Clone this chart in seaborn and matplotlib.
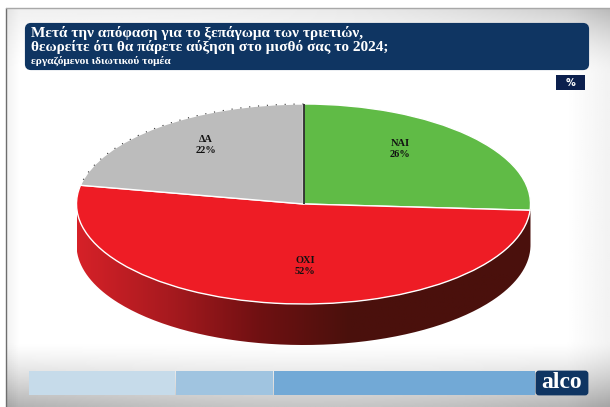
import numpy as np
import matplotlib
matplotlib.use("Agg")
import matplotlib.pyplot as plt
from matplotlib.patches import FancyBboxPatch, Rectangle, PathPatch
from matplotlib.path import Path
import seaborn as sns

labels = ["ΝΑΙ", "ΟΧΙ", "ΔΑ"]
values = [26, 52, 22]
colors = ["#60bb46", "#ee1c25", "#bcbcbc"]
side_shades = ["#d62128", "#a81a1f", "#701012", "#4a100c", "#4a100c", "#4a100c"]
title_lines = ["Μετά την απόφαση για το ξεπάγωμα των τριετιών,",
               "θεωρείτε ότι θα πάρετε αύξηση στο μισθό σας το 2024;"]
subtitle = "εργαζόμενοι ιδιωτικού τομέα"
segments = [146, 97, 261]
segment_colors = ["#c6dbea", "#a0c4e0", "#72a9d6"]

sns.set_theme(style="white")
plt.rcParams["font.family"] = ["Liberation Serif", "DejaVu Serif"]

W, H = 610, 407
fig = plt.figure(figsize=(W / 100, H / 100), dpi=100, facecolor="white")
bg = fig.add_axes([0, 0, 1, 1])
bg.axis("off")

# Slide backdrop: pale centre that greys toward the top and bottom edges
yy, xx = np.mgrid[0:1:200j, 0:1:300j]
edge = (np.clip(yy - .84, 0, 1) / .16) ** 1.3 * .30 * (1 - .25 * np.sin(np.pi * xx))
edge = edge + (np.clip(.16 - yy, 0, 1) / .16) ** 1.5 * (.06 + .16 * xx ** 3)
edge = edge + np.clip(xx - .93, 0, 1) / .07 * .05 + np.clip(.02 - xx, 0, 1) / .02 * .05
bg.imshow(1 - edge, cmap="gray", vmin=0, vmax=1, extent=(6, W, H, 8), aspect="auto", zorder=0)
bg.plot([6, 6], [8, H], color="#6e6e6e", lw=1, zorder=1)
bg.plot([6, W], [8, 8], color="#a8a8a8", lw=1, zorder=1)

# Pie geometry in pixels
cx, cy, rx, ry, depth = 303.5, 204, 227, 100, 41

# Pie rim
theta = np.linspace(0, np.pi, 200)
top_x, top_y = cx + rx * np.cos(theta), cy + ry * np.sin(theta)
rim = np.vstack([np.c_[top_x, top_y], np.c_[top_x[::-1], top_y[::-1] + depth]])
rim_patch = PathPatch(Path(np.vstack([rim, rim[0]])), fc="none", ec="none", transform=bg.transData)
bg.add_patch(rim_patch)
shade = sns.blend_palette(side_shades, n_colors=256)
grad = np.array(shade)[None, :, :]
im = bg.imshow(grad, extent=(cx - rx, cx + rx, cy + ry + depth, cy), aspect="auto", zorder=2)
im.set_clip_path(rim_patch)
bg.set_xlim(0, W)
bg.set_ylim(H, 0)

# Pie top face, squashed to an ellipse by its axes
pie_ax = fig.add_axes([(cx - rx) / W, 1 - (cy + ry) / H, 2 * rx / W, 2 * ry / H])
pie_ax.patch.set_alpha(0)
wedges, _ = pie_ax.pie(values, colors=colors, startangle=90, counterclock=False, radius=1)
pie_ax.set_aspect("auto")
pie_ax.set_xlim(-1, 1)
pie_ax.set_ylim(-1, 1)
pie_ax.axis("off")

# Dark seam at the top of the pie and faint dotted outline on the grey slice
pie_ax.plot([0, 0], [0, 1], color="#2a2a2a", lw=1.3, solid_capstyle="butt")
a = np.radians(np.linspace(wedges[2].theta1, wedges[2].theta2, 200))
pie_ax.plot(np.cos(a), np.sin(a), color="#333333", lw=.8, ls=(0, (1, 7)), clip_on=False)

over = fig.add_axes([0, 0, 1, 1])
over.set_xlim(0, W)
over.set_ylim(H, 0)
over.axis("off")
over.patch.set_alpha(0)

# Slice labels
label_pos = [(400, 149), (305, 266), (206, 145)]
for name, v, (px, py) in zip(labels, values, label_pos):
    over.text(px, py, f"{name}\n{v}%", ha="center", va="center", fontsize=7.5, weight="bold",
              color="#111111", linespacing=1.15)

# Title banner
over.add_patch(FancyBboxPatch((27, 25), 560, 43, boxstyle="round,pad=0,rounding_size=4",
                              fc="#0f3562", ec="#0f3562", lw=3))
over.text(31, 33.5, title_lines[0], color="white", fontsize=11, weight="bold", va="center", ha="left")
over.text(31, 47.5, title_lines[1], color="white", fontsize=11, weight="bold", va="center", ha="left")
over.text(31, 60.5, subtitle, color="white", fontsize=8.2, weight="bold", va="center", ha="left")

# Unit tag
over.add_patch(Rectangle((556, 75), 29, 15, fc="#0b1f4d", ec="none"))
over.text(570.5, 82.5, "%", color="white", fontsize=7, weight="bold", ha="center", va="center",
          family="DejaVu Sans")

# Bottom strip
left = 29
for width, c in zip(segments, segment_colors):
    over.add_patch(Rectangle((left, 371), width, 24, fc=c, ec="none"))
    left += width + 1
over.add_patch(FancyBboxPatch((537, 372), 50, 22, boxstyle="round,pad=0,rounding_size=2",
                              fc="#0f3562", ec="#0f3562", lw=2))
over.text(562, 383, "alco", color="white", fontsize=17, weight="bold", ha="center", va="center")

fig.savefig("out.png", dpi=100, facecolor="white")
